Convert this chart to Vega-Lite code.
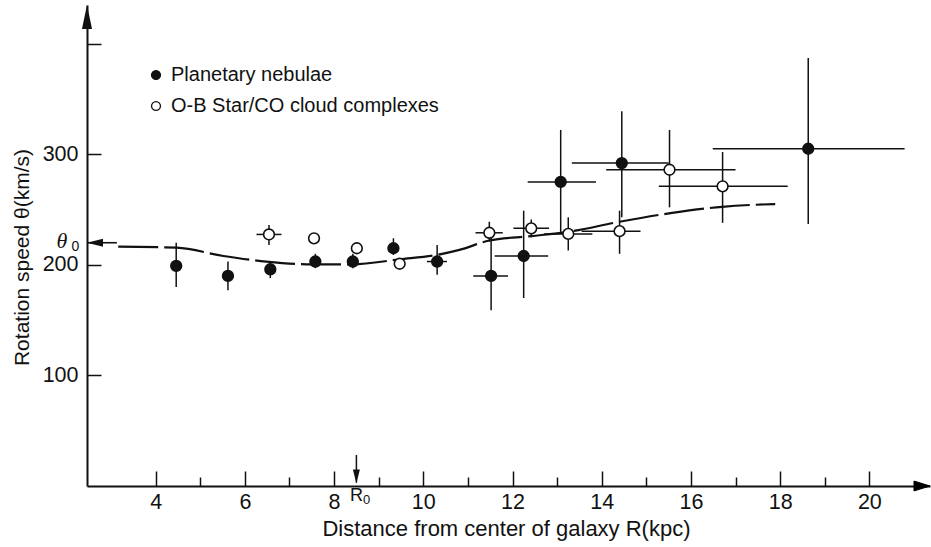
{
  "$schema": "https://vega.github.io/schema/vega-lite/v6.json",
  "width": 843,
  "height": 481,
  "autosize": {"type": "none"},
  "padding": {"left": 87, "top": 5, "right": 1, "bottom": 55},
  "background": "white",
  "config": {"font": "Liberation Sans", "view": {"stroke": null}},
  "datasets": {
    "obs": [
      {"series": "Planetary nebulae", "R": 4.46, "v": 199, "vlo": 180, "vhi": 220},
      {"series": "Planetary nebulae", "R": 5.62, "v": 190, "vlo": 177, "vhi": 203},
      {"series": "Planetary nebulae", "R": 6.57, "v": 196, "vlo": 188, "vhi": 203},
      {"series": "Planetary nebulae", "R": 7.58, "v": 203, "vlo": 197, "vhi": 210},
      {"series": "Planetary nebulae", "R": 8.42, "v": 203, "vlo": 197, "vhi": 210},
      {"series": "Planetary nebulae", "R": 9.33, "v": 215, "vlo": 209, "vhi": 224},
      {"series": "Planetary nebulae", "R": 10.31, "v": 203, "vlo": 191, "vhi": 218, "Rlo": 10.08, "Rhi": 10.53},
      {"series": "Planetary nebulae", "R": 11.52, "v": 190, "vlo": 159, "vhi": 225, "Rlo": 11.12, "Rhi": 11.9},
      {"series": "Planetary nebulae", "R": 12.25, "v": 208, "vlo": 170, "vhi": 249, "Rlo": 11.6, "Rhi": 12.8},
      {"series": "Planetary nebulae", "R": 13.08, "v": 275, "vlo": 229, "vhi": 322, "Rlo": 12.34, "Rhi": 13.87},
      {"series": "Planetary nebulae", "R": 14.45, "v": 292, "vlo": 243, "vhi": 339, "Rlo": 13.33, "Rhi": 15.5},
      {"series": "Planetary nebulae", "R": 18.63, "v": 305, "vlo": 237, "vhi": 387, "Rlo": 16.49, "Rhi": 20.79},
      {"series": "O-B Star/CO cloud complexes", "R": 6.54, "v": 227.5, "vlo": 218, "vhi": 236, "Rlo": 6.26, "Rhi": 6.82},
      {"series": "O-B Star/CO cloud complexes", "R": 7.55, "v": 224},
      {"series": "O-B Star/CO cloud complexes", "R": 8.51, "v": 215},
      {"series": "O-B Star/CO cloud complexes", "R": 9.47, "v": 201},
      {"series": "O-B Star/CO cloud complexes", "R": 11.48, "v": 229, "vlo": 221, "vhi": 239, "Rlo": 11.17, "Rhi": 11.78},
      {"series": "O-B Star/CO cloud complexes", "R": 12.42, "v": 233, "vlo": 225, "vhi": 241, "Rlo": 12.02, "Rhi": 12.82},
      {"series": "O-B Star/CO cloud complexes", "R": 13.25, "v": 228, "vlo": 213, "vhi": 243, "Rlo": 12.71, "Rhi": 13.79},
      {"series": "O-B Star/CO cloud complexes", "R": 14.4, "v": 230.5, "vlo": 210, "vhi": 249, "Rlo": 13.55, "Rhi": 14.87},
      {"series": "O-B Star/CO cloud complexes", "R": 15.52, "v": 286, "vlo": 252, "vhi": 322, "Rlo": 14.1, "Rhi": 17.0},
      {"series": "O-B Star/CO cloud complexes", "R": 16.71, "v": 271, "vlo": 238, "vhi": 302, "Rlo": 15.28, "Rhi": 18.17}
    ],
    "curve": [
      {"R": 3.16, "v": 216.5},
      {"R": 4.47, "v": 215.5},
      {"R": 5.52, "v": 208},
      {"R": 6.48, "v": 203},
      {"R": 7.52, "v": 200.5},
      {"R": 8.41, "v": 200.5},
      {"R": 9.47, "v": 205},
      {"R": 10.31, "v": 209},
      {"R": 10.81, "v": 213.5},
      {"R": 11.48, "v": 222},
      {"R": 12.42, "v": 226},
      {"R": 13.27, "v": 230},
      {"R": 14.4, "v": 239},
      {"R": 15.58, "v": 247},
      {"R": 16.7, "v": 252.5},
      {"R": 17.89, "v": 255}
    ]
  },
  "layer": [
    {
      "encoding": {
        "x": {
          "field": "R",
          "type": "quantitative",
          "scale": {"domain": [2.46, 21.36], "nice": false, "zero": false},
          "axis": {
            "values": [4, 6, 8, 10, 12, 14, 16, 18, 20],
            "grid": false,
            "tickSize": -15,
            "tickWidth": 1.5,
            "tickColor": "#111",
            "domainColor": "#111",
            "domainWidth": 2,
            "labelFontSize": 21.5,
            "labelColor": "#111",
            "labelPadding": 20,
            "labelFlush": false,
            "title": "Distance from center of galaxy R(kpc)",
            "titleFontSize": 22,
            "titleFontWeight": "normal",
            "titleColor": "#111",
            "titleX": 419,
            "titleY": 42,
            "titleAlign": "center",
            "titleBaseline": "middle"
          }
        },
        "y": {
          "field": "v",
          "type": "quantitative",
          "scale": {"domain": [0, 435], "nice": false, "zero": false},
          "axis": {
            "values": [100, 200, 300, 400],
            "labelExpr": "datum.value == 400 ? '' : datum.label",
            "grid": false,
            "tickSize": -14,
            "tickWidth": 1.5,
            "tickColor": "#111",
            "domainColor": "#111",
            "domainWidth": 2,
            "labelFontSize": 21.5,
            "labelColor": "#111",
            "labelPadding": 23,
            "labelFlush": false,
            "title": "Rotation speed θ(km/s)",
            "titleFontSize": 21,
            "titleFontWeight": "normal",
            "titleColor": "#111",
            "titleAngle": -90,
            "titleX": -65,
            "titleY": 252,
            "titleAlign": "center",
            "titleBaseline": "middle"
          }
        }
      },
      "layer": [
        {
          "data": {"name": "curve"},
          "mark": {"type": "line", "interpolate": "monotone", "color": "#111", "strokeWidth": 2.2, "strokeDash": [40, 6]}
        },
        {
          "data": {"name": "obs"},
          "transform": [{"filter": "datum.vlo != null"}],
          "mark": {"type": "rule", "color": "#111", "strokeWidth": 1.5},
          "encoding": {
            "y": {"field": "vlo", "type": "quantitative", "scale": {"domain": [0, 435], "nice": false, "zero": false}},
            "y2": {"field": "vhi"}
          }
        },
        {
          "data": {"name": "obs"},
          "transform": [{"filter": "datum.Rlo != null"}],
          "mark": {"type": "rule", "color": "#111", "strokeWidth": 1.5},
          "encoding": {
            "x": {"field": "Rlo", "type": "quantitative", "scale": {"domain": [2.46, 21.36], "nice": false, "zero": false}},
            "x2": {"field": "Rhi"}
          }
        },
        {
          "data": {"name": "obs"},
          "mark": {"type": "point", "shape": "circle", "filled": true, "size": 115, "stroke": "#111", "strokeWidth": 1.6, "opacity": 1},
          "encoding": {
            "fill": {
              "field": "series",
              "type": "nominal",
              "scale": {"domain": ["Planetary nebulae", "O-B Star/CO cloud complexes"], "range": ["#111", "white"]},
              "legend": {
                "title": null,
                "orient": "none",
                "legendX": 59,
                "legendY": 60,
                "padding": 0,
                "symbolType": "circle",
                "symbolSize": 80,
                "symbolStrokeColor": "#111",
                "symbolStrokeWidth": 1.3,
                "labelFontSize": 20,
                "labelColor": "#111",
                "labelOffset": 5,
                "rowPadding": 11,
                "labelLimit": 400
              }
            }
          }
        },
        {
          "data": {"values": [{"R": 2.46, "v": 424.2}]},
          "mark": {"type": "point", "shape": "M0,-1L-0.42,1L0.42,1Z", "size": 576, "filled": true, "color": "#111", "opacity": 1}
        },
        {
          "data": {"values": [{"R": 2.46, "v": 220, "R2": 3.13}]},
          "mark": {"type": "rule", "color": "#111", "strokeWidth": 1.6},
          "encoding": {"x2": {"field": "R2"}}
        },
        {
          "data": {"values": [{"R": 2.64, "v": 220}]},
          "mark": {"type": "point", "shape": "M-1,0L1,-0.5L1,0.5Z", "size": 256, "filled": true, "color": "#111", "opacity": 1}
        },
        {
          "data": {"values": [{"R": 8.5, "v": 3, "v2": 28}]},
          "mark": {"type": "rule", "color": "#111", "strokeWidth": 1.5},
          "encoding": {"y2": {"field": "v2"}}
        },
        {
          "data": {"values": [{"R": 8.5, "v": 8.5}]},
          "mark": {"type": "point", "shape": "M0,1L-0.5,-1L0.5,-1Z", "size": 196, "filled": true, "color": "#111", "opacity": 1}
        },
        {
          "data": {"values": [{"R": 1.9, "v": 221.6}]},
          "mark": {"type": "text", "text": "θ", "font": "Liberation Serif", "fontStyle": "italic", "fontSize": 22, "color": "#111", "align": "center", "baseline": "middle"}
        },
        {
          "data": {"values": [{"R": 2.2, "v": 216}]},
          "mark": {"type": "text", "text": "0", "fontSize": 14, "color": "#111", "align": "center", "baseline": "middle"}
        },
        {
          "data": {"values": [{"R": 8.5, "v": -9}]},
          "mark": {"type": "text", "text": "R", "fontSize": 18, "color": "#111", "align": "center", "baseline": "middle"}
        },
        {
          "data": {"values": [{"R": 8.73, "v": -12.7}]},
          "mark": {"type": "text", "text": "0", "fontSize": 13, "color": "#111", "align": "center", "baseline": "middle"}
        },
        {
          "data": {"values": [{"R": 21.18, "v": 0}]},
          "mark": {"type": "point", "shape": "M1,0L-1,-0.62L-1,0.62Z", "size": 256, "filled": true, "color": "#000", "stroke": "#000", "strokeWidth": 1, "opacity": 1}
        }
      ]
    },
    {
      "data": {"name": "curve"},
      "mark": {"type": "point", "opacity": 0},
      "encoding": {
        "x": {
          "field": "R",
          "type": "quantitative",
          "scale": {"domain": [2.46, 21.36], "nice": false, "zero": false},
          "axis": {
            "orient": "bottom",
            "values": [5, 7, 9, 11, 13, 15, 17, 19],
            "grid": false,
            "domain": false,
            "labels": false,
            "title": null,
            "tickSize": -9,
            "tickWidth": 1.5,
            "tickColor": "#111"
          }
        }
      }
    }
  ],
  "resolve": {"scale": {"x": "independent"}}
}
